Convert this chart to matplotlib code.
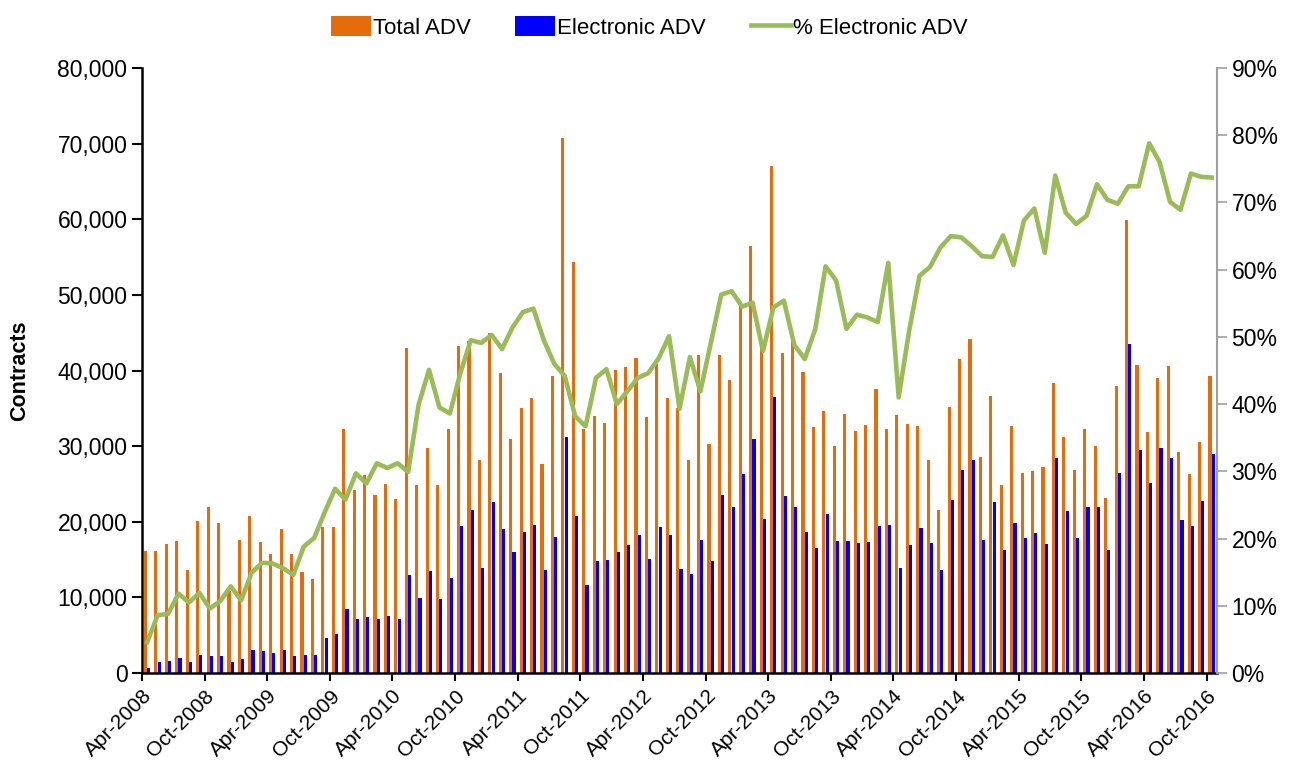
import numpy as np
import pandas as pd
import matplotlib
matplotlib.use("Agg")
import matplotlib.pyplot as plt
from matplotlib.ticker import FuncFormatter, MultipleLocator

plt.rcParams['font.family'] = ['Liberation Sans', 'DejaVu Sans']

# monthly data, Apr-2008 .. Oct-2016 (thousands of contracts)
months = pd.date_range("2008-04-01", periods=103, freq="MS")

total_adv = [
    16.1, 16.1, 17.0, 17.5, 13.6, 20.1, 22.0, 19.8, 10.8, 17.6, 20.7, 17.3, 15.7, 19.1, 15.8, 13.3, 12.4,
    19.3, 19.3, 32.2, 24.2, 26.2, 23.6, 25.0, 23.0, 43.0, 24.9, 29.8, 24.9, 32.2, 43.3, 43.9, 28.2, 45.0, 39.7,
    31.0, 35.0, 36.4, 27.6, 39.3, 70.7, 54.3, 32.3, 34.0, 33.1, 40.1, 40.4, 41.7, 33.9, 40.8, 36.4, 35.1,
    28.1, 42.0, 30.3, 42.0, 38.8, 49.0, 56.5, 43.5, 67.0, 42.3, 44.8, 39.8, 32.5, 34.7, 30.0, 34.3, 32.0,
    32.8, 37.5, 32.2, 34.1, 32.9, 32.6, 28.2, 21.5, 35.2, 41.5, 44.2, 28.5, 36.6, 24.9, 32.6, 26.4, 26.7,
    27.2, 38.4, 31.2, 26.9, 32.2, 30.0, 23.2, 38.0, 59.9, 40.7, 31.9, 39.0, 40.6, 29.2, 26.3, 30.5, 39.3,
]
electronic_adv = [
    0.7, 1.4, 1.6, 2.0, 1.4, 2.4, 2.2, 2.2, 1.4, 1.8, 3.1, 2.9, 2.6, 3.0, 2.3, 2.4, 2.4,
    4.6, 5.2, 8.4, 7.1, 7.4, 7.2, 7.5, 7.1, 12.9, 9.9, 13.5, 9.8, 12.5, 19.4, 21.6, 13.9, 22.6, 19.0,
    16.0, 18.7, 19.6, 13.6, 18.0, 31.2, 20.7, 11.7, 14.8, 14.9, 16.0, 16.9, 18.2, 15.1, 19.3, 18.2, 13.7,
    13.1, 17.6, 14.8, 23.6, 22.0, 26.3, 31.0, 20.4, 36.5, 23.4, 21.9, 18.6, 16.5, 21.0, 17.4, 17.4, 17.2,
    17.3, 19.5, 19.6, 13.9, 16.9, 19.2, 17.2, 13.6, 22.9, 26.9, 28.2, 17.6, 22.6, 16.3, 19.8, 17.9, 18.5,
    17.1, 28.4, 21.4, 17.9, 21.9, 21.9, 16.3, 26.5, 43.5, 29.5, 25.1, 29.7, 28.4, 20.2, 19.5, 22.7, 29.0,
]
pct_electronic = [
    4.6, 8.6, 8.8, 11.8, 10.5, 11.9, 9.6, 10.7, 12.9, 10.8, 14.9, 16.4, 16.3, 15.6, 14.6, 18.8, 20.1,
    23.9, 27.4, 25.8, 29.7, 28.2, 31.2, 30.5, 31.2, 29.9, 39.9, 45.1, 39.5, 38.6, 44.6, 49.5, 49.1, 50.3, 48.2,
    51.4, 53.7, 54.2, 49.5, 46.0, 44.2, 38.2, 36.7, 43.9, 45.2, 40.0, 41.9, 43.9, 44.6, 46.8, 50.1, 39.3,
    47.0, 41.9, 49.1, 56.3, 56.8, 54.5, 55.1, 47.9, 54.4, 55.4, 48.8, 46.7, 51.1, 60.5, 58.4, 51.2, 53.3,
    52.9, 52.2, 61.0, 41.0, 50.9, 59.1, 60.4, 63.3, 65.0, 64.8, 63.5, 62.0, 61.9, 65.1, 60.7, 67.3, 69.1,
    62.5, 74.0, 68.5, 66.8, 68.0, 72.7, 70.4, 69.8, 72.4, 72.4, 78.8, 76.0, 70.1, 68.9, 74.3, 73.8, 73.7,
]

orange = "#E46C0A"
blue = "#0000FF"
green = "#9BBB59"

x = np.arange(len(months))
total = np.array(total_adv) * 1000
elec = np.array(electronic_adv) * 1000

fig = plt.figure(figsize=(12.98, 7.71), dpi=100)
ax = fig.add_axes([0.1094, 0.1271, 0.8282, 0.7847])

b1 = ax.bar(x + 0.33, total, width=0.3, color=orange, label="Total ADV")
b2 = ax.bar(x + 0.64, elec, width=0.3, color=blue, label="Electronic ADV")

ax.set_xlim(0, len(months))
ax.set_ylim(0, 80000)
ax.yaxis.set_major_locator(MultipleLocator(10000))
ax.yaxis.set_major_formatter(FuncFormatter(lambda v, p: f"{v:,.0f}"))
ax.set_ylabel("Contracts", fontsize=15.5, fontweight="bold", labelpad=20)

tick_pos = x[::6]
ax.set_xticks(tick_pos)
ax.set_xticklabels([m.strftime("%b-%Y") for m in months[::6]], rotation=45,
                   ha="right", rotation_mode="anchor", fontsize=15)
ax.tick_params(axis="y", labelsize=16.5, direction="out", length=7, width=1.5)
ax.tick_params(axis="x", direction="out", length=6, width=1.5)

for s in ["top", "right"]:
    ax.spines[s].set_visible(False)
ax.spines["left"].set_linewidth(1.8)
ax.spines["bottom"].set_linewidth(1.8)

ax2 = ax.twinx()
l1, = ax2.plot(x + 0.5, pct_electronic, color=green, lw=3.3, label="% Electronic ADV")
ax2.set_ylim(0, 90)
ax2.yaxis.set_major_locator(MultipleLocator(10))
ax2.yaxis.set_major_formatter(FuncFormatter(lambda v, p: f"{v:.0f}%"))
ax2.tick_params(axis="y", labelsize=16.5, direction="out", length=7, width=1.2, color="#A0A0A0")
for s in ["top", "left", "bottom"]:
    ax2.spines[s].set_visible(False)
ax2.spines["right"].set_color("#A0A0A0")
ax2.spines["right"].set_linewidth(1.5)

fig.legend(handles=[b1, b2, l1], loc="upper center", bbox_to_anchor=(0.5, 1.005), ncol=3,
           frameon=False, fontsize=16, handlelength=1.8, handleheight=1.0,
           handletextpad=0.1, columnspacing=2.0)

plt.savefig("out.png", dpi=100)
